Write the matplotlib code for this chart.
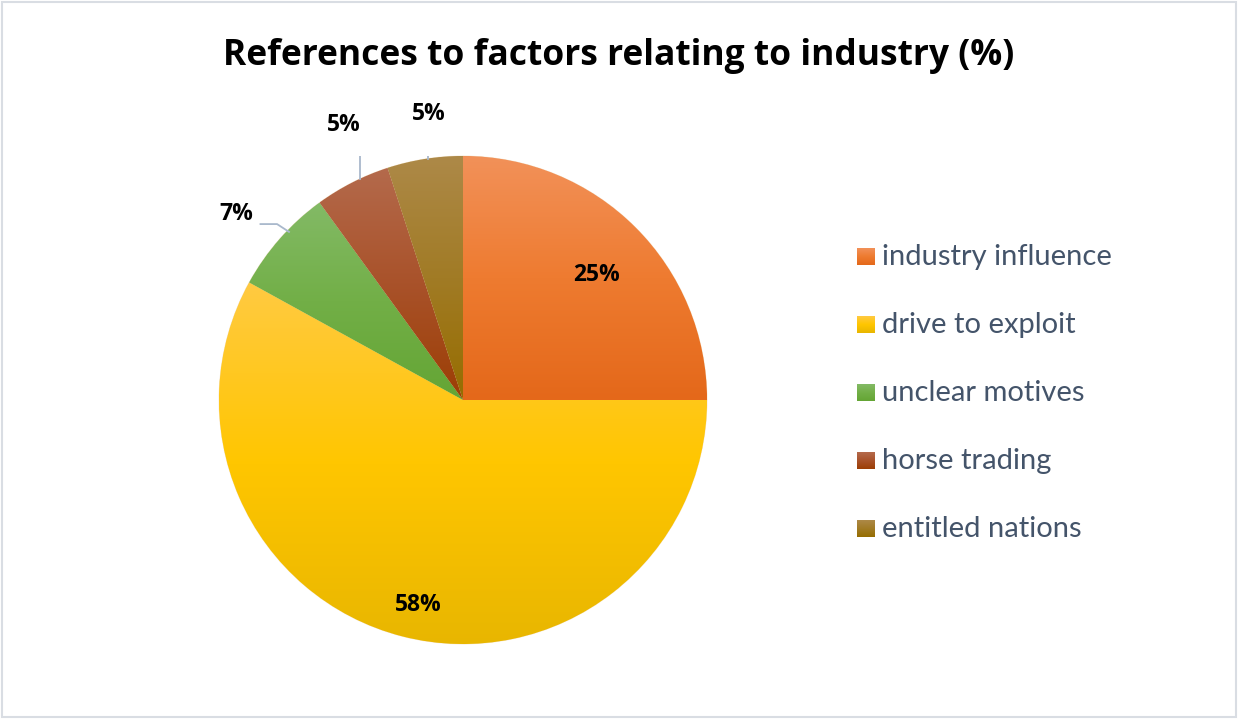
import numpy as np
import matplotlib.pyplot as plt
from matplotlib.colors import LinearSegmentedColormap
from matplotlib.patches import Rectangle

plt.rcParams['font.family'] = ['Lato', 'DejaVu Sans']
BOLD = ['Open Sans', 'DejaVu Sans']

labels = ["industry influence", "drive to exploit", "unclear motives",
          "horse trading", "entitled nations"]
shares = [25, 58, 7, 5, 5]
pct_text = ["25%", "58%", "7%", "5%", "5%"]

# light top / base / dark bottom of each slice's vertical gradient
shades = [
    ["#F29159", "#EE7B30", "#E4681A"],
    ["#FFCA42", "#FFC600", "#E8B600"],
    ["#83BA66", "#72AF47", "#64A534"],
    ["#B46A4C", "#A9522A", "#9C3E04"],
    ["#AD8948", "#A17B25", "#966D00"],
]

# label radius and small angle nudge (degrees) per slice
lab_r = [0.75, 0.86, 1.20, 1.23, 1.18]
lab_da = [-2.0, 2.0, 2.0, -3.5, -2.2]

W, H = 1238, 719
fig = plt.figure(figsize=(W / 100, H / 100), dpi=100)

# pie centred at (463, 400) px with radius 244 px
cx, cy, R = 463, 400, 244
ax = fig.add_axes([(cx - R) / W, (H - cy - R) / H, 2 * R / W, 2 * R / H])

wedges, _ = ax.pie(shares, startangle=90, counterclock=False, radius=1,
                   colors=[s[1] for s in shades],
                   wedgeprops=dict(edgecolor="#F4E6D0", linewidth=0.6))

grad = np.linspace(0, 1, 256).reshape(-1, 1)
for w, sh in zip(wedges, shades):
    v = w.get_path().vertices
    cmap = LinearSegmentedColormap.from_list("g", sh[::-1])
    im = ax.imshow(grad, cmap=cmap, origin="lower", aspect="auto",
                   extent=[v[:, 0].min(), v[:, 0].max(), v[:, 1].min(), v[:, 1].max()],
                   zorder=w.get_zorder() + 0.1, interpolation="bilinear")
    im.set_clip_path(w)

for w, txt, r, da in zip(wedges, pct_text, lab_r, lab_da):
    a = np.deg2rad((w.theta1 + w.theta2) / 2 + da)
    x, y = r * np.cos(a), r * np.sin(a)
    ax.text(x, y, txt, ha="center", va="center", fontsize=16.5, family=BOLD,
            fontweight="bold", color="black", zorder=5)

# leader lines for the small outside labels
lc = "#A9B8CC"
ax.plot([-0.83, -0.762, -0.713], [0.721, 0.721, 0.689], color=lc, lw=1.3, zorder=4)
for lx, ly in [(-0.422, 1.062), (-0.143, 1.098)]:
    ax.plot([lx, lx], [ly, np.sqrt(1 - lx ** 2)], color=lc, lw=1.3, zorder=4)

ax.set_xlim(-1, 1)
ax.set_ylim(-1, 1)
ax.set_aspect("equal")
ax.axis("off")

fig.suptitle("References to factors relating to industry (%)", x=0.5,
             y=1 - 56 / H, va="center", fontsize=25.5, fontweight="bold",
             family=BOLD)

# legend with gradient swatches, drawn on a pixel overlay
lg = fig.add_axes([0, 0, 1, 1], zorder=-1)
for i, (lab, sh) in enumerate(zip(labels, shades)):
    yc = 257 + 68 * i
    cmap = LinearSegmentedColormap.from_list("g", sh[::-1])
    lg.imshow(grad, cmap=cmap, origin="lower", aspect="auto",
              extent=[857, 875, yc + 8, yc - 9], interpolation="bilinear")
    lg.text(882, yc, lab, va="center", ha="left", fontsize=21, color="#44546A")
lg.add_patch(Rectangle((1.5, 1.5), W - 4, H - 4, fill=False,
                       edgecolor="#D9DDE3", lw=1.5))
lg.set_xlim(0, W)
lg.set_ylim(H, 0)
lg.axis("off")

fig.savefig("out.png", dpi=100, facecolor="white")
